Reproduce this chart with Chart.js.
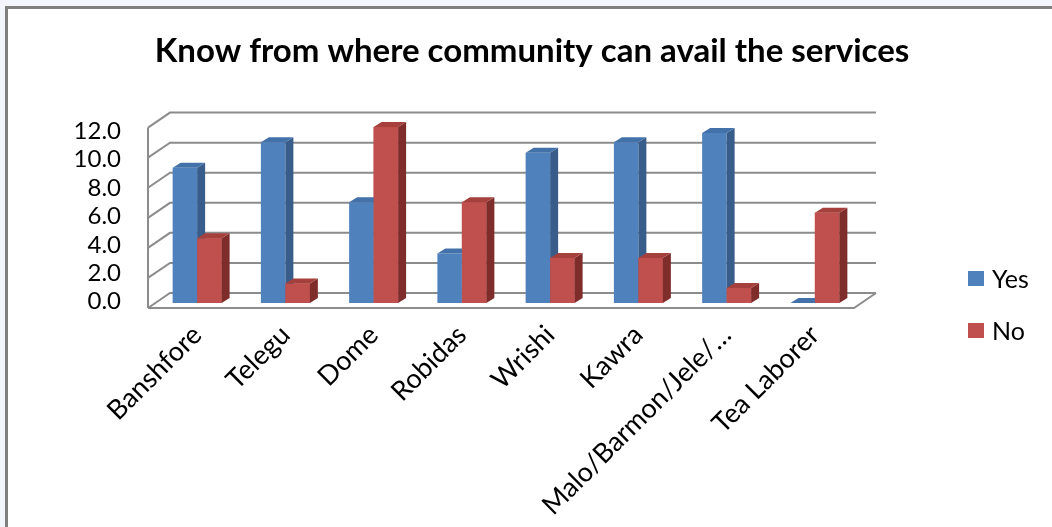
<!DOCTYPE html>
<html>
<head>
<meta charset="utf-8">
<script src="https://cdn.jsdelivr.net/npm/chart.js@4/dist/chart.umd.min.js"></script>
<style>
  html, body { margin:0; padding:0; width:1052px; height:527px; overflow:hidden; background:#f3f5fd; }
  #frame { position:absolute; left:5px; top:6px; width:1200px; height:700px; background:#fff;
           border-left:3px solid #7f7f7f; border-top:3px solid #7f7f7f; }
  #wrap { position:absolute; left:0; top:0; width:1052px; height:527px; }
  .lg { position:absolute; font-family:Lato, "Open Sans", sans-serif; font-size:25px; color:#000; line-height:26px; }
  .sw { position:absolute; width:16px; height:15px; }
</style>
</head>
<body>
<div id="frame"></div>
<div id="wrap"><canvas id="c" width="1052" height="527"></canvas></div>
<div class="sw" style="left:968px;top:271px;background:#4f81bd"></div>
<div class="lg" style="left:992px;top:265px">Yes</div>
<div class="sw" style="left:968px;top:323px;background:#c0504d"></div>
<div class="lg" style="left:992px;top:317px">No</div>
<script>
const categories = ["Banshfore","Telegu","Dome","Robidas","Wrishi","Kawra","Malo/Barmon/Jele/\u2026","Tea Laborer"];
const yesValues = [9.0, 10.7, 6.7, 3.3, 10.0, 10.7, 11.3, 0.0];
const noValues  = [4.3, 1.3, 11.7, 6.7, 3.0, 3.0, 1.0, 6.0];
const yTickValues = [0, 2, 4, 6, 8, 10, 12];
const chartTitle = "Know from where community can avail the services";

const FONT = 'Lato, "Open Sans", sans-serif';
const sideCol = ['#385d8a', '#7f2d2b'];
const topCol  = ['#4372aa', '#a5403d'];
const frontCol = ['#4f81bd', '#c0504d'];

const threeD = {
  id: 'threeD',
  beforeDatasetsDraw(chart) {
    const ctx = chart.ctx, ys = chart.scales.y, a = chart.chartArea;
    const fdx = -5, fdy = 5, bdx = 17, bdy = -10;
    ctx.save();
    ctx.strokeStyle = '#8c8c8c';
    ctx.lineWidth = 2;
    const y0 = ys.getPixelForValue(0);
    ctx.beginPath();
    ctx.moveTo(a.left + fdx, y0 + fdy);
    ctx.lineTo(a.right + fdx, y0 + fdy);
    ctx.lineTo(a.right + bdx, y0 + bdy);
    ctx.stroke();
    const yTop = ys.getPixelForValue(12);
    ctx.beginPath();
    ctx.moveTo(a.left + fdx, yTop + fdy);
    ctx.lineTo(a.left + fdx, y0 + fdy);
    ctx.stroke();
    yTickValues.forEach(v => {
      const y = ys.getPixelForValue(v);
      ctx.beginPath();
      ctx.moveTo(a.left + fdx, y + fdy);
      ctx.lineTo(a.left + bdx, y + bdy);
      ctx.lineTo(a.right + bdx, y + bdy);
      ctx.stroke();
    });
    ctx.restore();
  },
  afterDatasetsDraw(chart) {
    const ctx = chart.ctx;
    const dx = 8, dy = -5;
    const m0 = chart.getDatasetMeta(0), m1 = chart.getDatasetMeta(1);
    ctx.save();
    const faces = (el, k) => {
      const left = el.x - el.width / 2, right = el.x + el.width / 2;
      const top = el.y, bot = el.base;
      ctx.fillStyle = sideCol[k];
      ctx.beginPath();
      ctx.moveTo(right, top); ctx.lineTo(right + dx, top + dy);
      ctx.lineTo(right + dx, bot + dy); ctx.lineTo(right, bot); ctx.closePath(); ctx.fill();
      ctx.fillStyle = topCol[k];
      ctx.beginPath();
      ctx.moveTo(left, top); ctx.lineTo(left + dx, top + dy);
      ctx.lineTo(right + dx, top + dy); ctx.lineTo(right, top); ctx.closePath(); ctx.fill();
    };
    m0.data.forEach((el, i) => {
      faces(el, 0);
      const r = m1.data[i];
      ctx.fillStyle = frontCol[1];
      ctx.fillRect(r.x - r.width / 2, r.y, r.width, r.base - r.y);
      faces(r, 1);
    });
    ctx.restore();
  }
};

new Chart(document.getElementById('c'), {
  type: 'bar',
  data: {
    labels: categories,
    datasets: [
      { label: 'Yes', data: yesValues, backgroundColor: frontCol[0], borderWidth: 0 },
      { label: 'No', data: noValues, backgroundColor: frontCol[1], borderWidth: 0 }
    ]
  },
  options: {
    responsive: false,
    animation: false,
    events: [],
    layout: { padding: { left: 12, right: 0, top: 10, bottom: 0 } },
    datasets: { bar: { categoryPercentage: 0.555, barPercentage: 1.0 } },
    plugins: {
      legend: { display: false },
      tooltip: { enabled: false },
      title: {
        display: true, text: chartTitle, color: '#000',
        font: { family: FONT, size: 33, weight: 'bold' },
        padding: { top: 22, bottom: 51 }
      }
    },
    scales: {
      x: {
        grid: { display: false }, border: { display: false },
        ticks: { color: '#000', font: { family: FONT, size: 27 }, minRotation: 45, maxRotation: 45, padding: 8, autoSkip: false },
        afterFit(s) { s.height = 224; }
      },
      y: {
        position: 'right', min: 0, max: 12,
        grid: { display: false, drawTicks: false }, border: { display: false },
        ticks: { display: false },
        afterFit(s) { s.width = 193; }
      },
      yl: {
        type: 'linear', position: 'left', min: -0.09, max: 12.61,
        grid: { display: false, drawTicks: false, tickLength: 0 }, border: { display: false },
        afterBuildTicks(s) { s.ticks = yTickValues.map(v => ({ value: v })); },
        ticks: { color: '#000', font: { family: FONT, size: 24 }, padding: 32, autoSkip: false,
                 callback: v => Number(v).toFixed(1) },
        afterFit(s) { s.width = 141; }
      }
    }
  },
  plugins: [threeD]
});
</script>
</body>
</html>
